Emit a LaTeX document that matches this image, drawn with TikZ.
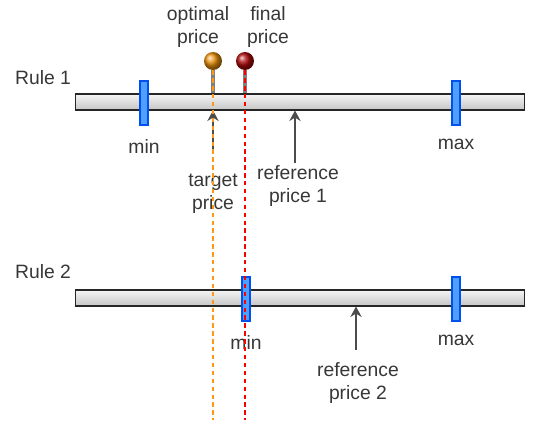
\documentclass[tikz,border=0pt]{standalone}
\usepackage{fontspec}
\setmainfont{Liberation Sans}
\usepackage{xcolor}
\usepackage{tikz}
\usetikzlibrary{shapes.geometric, arrows, arrows.meta, positioning, calc, shadings}
\definecolor{tickfill}{RGB}{77,160,255}
\definecolor{tickline}{RGB}{0,80,239}
\definecolor{optorange}{RGB}{235,145,10}
\definecolor{guideorange}{RGB}{255,150,20}
\definecolor{finalred}{RGB}{175,10,10}
\definecolor{txtgray}{RGB}{55,55,55}
\tikzstyle{arrow} = [thick,->,>=stealth]
\tikzstyle{line} = [thick,-]

\begin{document}
\begin{tikzpicture}[
    x=0.02cm, y=-0.02cm,
    bar/.style={rectangle, draw=black!85, semithick, top color=gray!8, bottom color=gray!45, minimum width=9cm, minimum height=0.32cm, inner sep=0pt},
    tick/.style={rectangle, draw=tickline, fill=tickfill, semithick, minimum width=0.16cm, minimum height=0.88cm, inner sep=0pt},
    pin/.style={circle, shading=ball, minimum size=0.36cm, inner sep=0pt},
    lbl/.style={text=txtgray, font=\fontsize{11}{13}\selectfont, align=center},
    stick/.style={line width=1.8pt, gray},
    arrow/.style={-{Stealth[length=6pt, width=6.5pt, inset=2pt]}, semithick, black!70},
    guide/.style={semithick, dash pattern=on 2.5pt off 2pt}
]
    \useasboundingbox (0,0) rectangle (544,436);

    % Rule 1
    \node[bar] (bar1) at (300,102) {};
    \node[lbl] (rule1) at (43,78) {Rule 1};
    \node[tick] (min1) at (144,103) {};
    \node[tick] (max1) at (456,103) {};
    \node[lbl, below=0.15cm of min1] (minlbl1) {min};
    \node[lbl, below=0.15cm of max1] (maxlbl1) {max};

    % Rule 2
    \node[bar] (bar2) at (300,298) {};
    \node[lbl] (rule2) at (43,272) {Rule 2};
    \node[tick] (min2) at (246,299) {};
    \node[tick] (max2) at (456,299) {};
    \node[lbl, below=0.15cm of min2] (minlbl2) {min};
    \node[lbl, below=0.15cm of max2] (maxlbl2) {max};

    % Pins
    \node[pin, ball color=optorange] (opt) at (213,61) {};
    \node[pin, ball color=finalred] (fin) at (245,61) {};
    \draw[stick] (opt.south) -- (opt.south |- bar1.north);
    \draw[stick] (fin.south) -- (fin.south |- bar1.north);
    \node[lbl] (optlbl) at (198,27) {optimal\\price};
    \node[lbl] (finlbl) at (268,27) {final\\price};

    % Arrows
    \coordinate (t1) at (213,152);
    \coordinate (r1) at (295,163);
    \coordinate (r2) at (356,350);
    \draw[arrow] (t1) -- (t1 |- bar1.south);
    \draw[arrow] (r1) -- (r1 |- bar1.south);
    \draw[arrow] (r2) -- (r2 |- bar2.south);
    \node[lbl] (tgtlbl) at (213,194) {target\\price};
    \node[lbl] (reflbl1) at (298,186) {reference\\price 1};
    \node[lbl] (reflbl2) at (358,383) {reference\\price 2};

    % Guides
    \coordinate (optend) at (213,420);
    \coordinate (finend) at (245,420);
    \draw[guide, guideorange] (opt.south) -- (optend);
    \draw[guide, red] (fin.south) -- (finend);
\end{tikzpicture}
\end{document}
